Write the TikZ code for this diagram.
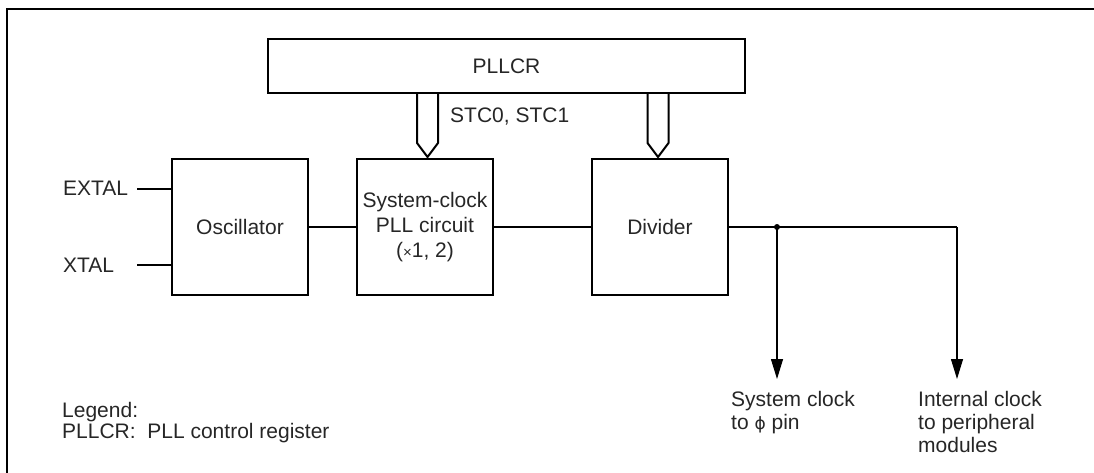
\documentclass[tikz,border=0pt]{standalone}
\usepackage{fontspec}
\setmainfont{Liberation Sans}
\newfontfamily\dejavu{DejaVu Sans}
\usetikzlibrary{arrows.meta}
\tikzset{
  blk/.style={draw, line width=2pt, minimum width=136pt, minimum height=136pt, inner sep=0pt, align=center, font=\fontsize{21}{25}\selectfont, text=black!85},
  conn/.style={line width=1.1pt},
  arr/.style={conn, -{Triangle[length=20pt,width=12pt]}},
  bus/.style={line width=2pt, line join=miter},
  lbl/.style={font=\fontsize{21}{23}\selectfont, align=left, anchor=north west, inner sep=0pt, text=black!85},
  txt/.style={font=\fontsize{21}{23}\selectfont, inner sep=0pt, text=black!85},
}
\begin{document}
\begin{tikzpicture}[x=1pt, y=-1pt]
\useasboundingbox (0,0) rectangle (1094,473);
% frame
\draw[line width=2.4pt] (1094,9) -- (7,9) -- (7,473);
% PLLCR register
\node[draw, line width=2pt, minimum width=477pt, minimum height=54pt, txt] (pllcr) at (506.5,66) {PLLCR};
% blocks
\node[blk] (osc) at (240,227) {Oscillator};
\node[blk] (pll) at (425,227) {System-clock\\PLL circuit\\({\fontsize{15}{15}\selectfont ×}1, 2)};
\node[blk] (div) at (660,227) {Divider};
% bus arrows
\draw[bus] (417,93) -- (417,143) -- (427.5,157) -- (438,143) -- (438,93);
\draw[bus] (647.5,93) -- (647.5,143) -- (658,157) -- (668.5,143) -- (668.5,93);
\node[txt, anchor=west] (stc) at (450,117) {STC0, STC1};
% inputs
\node[txt, anchor=base west] (extal) at (63,196) {EXTAL};
\node[txt, anchor=base west] (xtal) at (63,272) {XTAL};
\coordinate (e1) at (137,189);
\coordinate (x1) at (137,265);
\draw[conn] (e1) -- (osc.west |- e1);
\draw[conn] (x1) -- (osc.west |- x1);
% chain
\draw[conn] (osc) -- (pll);
\draw[conn] (pll) -- (div);
% outputs
\coordinate (j) at (777,227);
\coordinate (c2) at (957,227);
\coordinate (o1) at (777,379);
\coordinate (o2) at (957,379);
\draw[conn] (div.east) -- (c2);
\draw[arr] (c2) -- (o2);
\draw[arr] (j) -- (o1);
\fill (j) circle (3pt);
\node[lbl] (t1) at (731,391) {System clock\\to {\dejavu\fontsize{17}{17}\selectfont ϕ} pin};
\node[lbl] (t2) at (918,391) {Internal clock\\to peripheral\\modules};
% legend
\node[lbl, font=\fontsize{21}{21}\selectfont] (leg) at (62,402) {Legend:\\PLLCR:\ \ PLL control register};
\end{tikzpicture}
\end{document}
